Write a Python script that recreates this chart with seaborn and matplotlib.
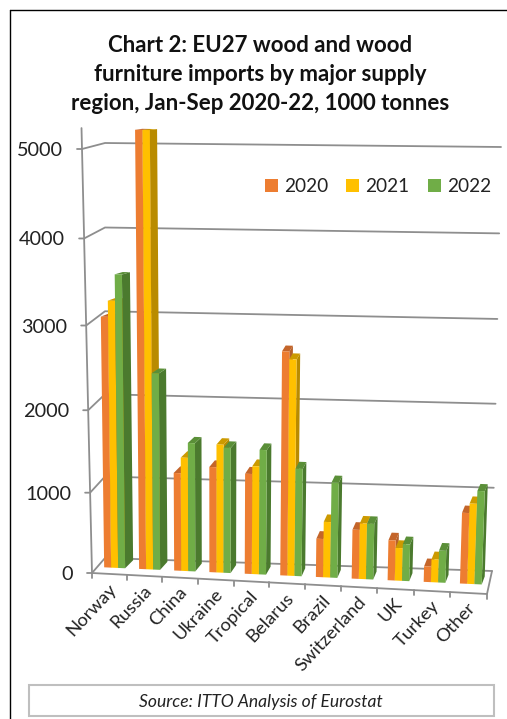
import numpy as np, pandas as pd
import matplotlib
matplotlib.use("Agg")
import matplotlib.pyplot as plt
from matplotlib.patches import Polygon, Rectangle
from matplotlib.transforms import Transform, IdentityTransform
from matplotlib.lines import Line2D
import seaborn as sns

regions = ["Norway","Russia","China","Ukraine","Tropical","Belarus","Brazil","Switzerland","UK","Turkey","Other"]
v2020 = [3040,5200,1200,1290,1225,2700,470,600,490,190,860]
v2021 = [3230,5200,1390,1565,1320,2610,680,680,400,280,975]
v2022 = [3540,2390,1570,1530,1520,1310,1160,680,450,390,1130]
years = ["2020","2021","2022"]
colors = ["#ED7D31","#FFC000","#70AD47"]
side_colors = ["#B5602A","#B98B00","#4B7A2E"]
top_colors = ["#C4652A","#CC9A00","#5A8F38"]
yticks = [0,1000,2000,3000,4000,5000]
H = 719
GRID = "#8E8E8E"

def homography(src, dst):
    A, b = [], []
    for (x,y),(u,v) in zip(src,dst):
        A.append([x,y,1,0,0,0,-u*x,-u*y]); b.append(u)
        A.append([0,0,0,x,y,1,-v*x,-v*y]); b.append(v)
    return np.append(np.linalg.solve(np.array(A,float),np.array(b,float)),1).reshape(3,3)

XL, XR, YMAX = -0.5, 10.5, 5000
src = [(XL,0),(XR,0),(XL,YMAX),(XR,YMAX)]
FRONT = homography(src, [(92,573),(487,594),(82,149),(505,161)])
BACK = homography(src, [(105,558),(492,571),(105,143),(501,147)])

def apply_h(M, xy):
    xy = np.atleast_2d(np.asarray(xy,float))
    p = np.c_[xy, np.ones(len(xy))] @ M.T
    return p[:,:2]/p[:,2:]

def project(xy, z):
    q = (1-z)*apply_h(FRONT,xy) + z*apply_h(BACK,xy)
    q[:,1] = H - q[:,1]
    return q

def depth(x, h):
    dx = np.interp(x,[0,2,5,10],[8,6.5,3.6,3])
    dy = -8 + h*np.interp(x,[0,1,5,10],[.0016,.00135,.0008,.0009])
    return np.array([dx,-dy])

class Persp(Transform):
    input_dims = output_dims = 2
    is_affine = False
    has_inverse = False
    def __init__(self, z=0.0):
        super().__init__()
        self.z = z
    def transform_non_affine(self, values):
        return project(values, self.z)

sns.set_theme(style="white")
plt.rcParams["font.family"] = ["Lato","DejaVu Sans"]
fig = plt.figure(figsize=(5.07,7.19), dpi=100, facecolor="white")
ax = fig.add_axes([0,0,1,1])
df = pd.DataFrame({"region":regions*3,
                   "value":v2020+v2021+v2022,
                   "year":[y for y in years for _ in regions]})
sns.barplot(data=df, x="region", y="value", hue="year", palette=colors, saturation=1,
            width=0.6, gap=0, ax=ax, linewidth=0, edgecolor="none", legend=True)
ax.axis("off")

Z0 = 0.40
front = Persp(Z0)
ident = IdentityTransform()
order = 10
def line(pts):
    pts = np.asarray(pts)
    ax.add_line(Line2D(pts[:,0], pts[:,1], transform=ident, color=GRID, lw=1.3, zorder=2, clip_on=False))
for v in yticks:
    fl = project([(XL,v)],0)[0]; bl = project([(XL,v)],1)[0]; br = project([(XR,v)],1)[0]
    line([fl+[-5,0], fl, bl, br])
line(np.vstack([project([(XL,0)],0), project([(XL,5230)],0)]))
line(np.vstack([project([(XL,0),(XR,0)],0), project([(XR,0)],1)]))
for i in range(12):
    p = project([(XL+i,0)],0)[0]
    line([p, p+[0,-5]])

# 3D bars built from the bars seaborn drew
for cat in range(len(regions)):
    for ci, cont in enumerate(ax.containers):
        r = cont.patches[cat]
        x0, x1, h = r.get_x(), r.get_x()+r.get_width(), r.get_height()
        r.set_transform(front); r.set_clip_on(False); r.set_zorder(order+2)
        a, b = project([(x1,0),(x1,h)],Z0)
        e, f = project([(x0,h),(x1,h)],Z0)
        d0, dh = depth(cat,0), depth(cat,h)
        ax.add_patch(Polygon([a,b,b+dh,a+d0],closed=True,fc=side_colors[ci],ec="none",transform=ident,zorder=order+1,clip_on=False))
        ax.add_patch(Polygon([e,f,f+dh,e+dh],closed=True,fc=top_colors[ci],ec="none",transform=ident,zorder=order+1,clip_on=False))
        order += 3

for v in yticks:
    ax.annotate(str(v), xy=(XL,v), xycoords=Persp(0), xytext=(-19,-1.5), textcoords="offset pixels",
                ha="right", va="center", fontsize=14.3, color="#222222", annotation_clip=False)
for i,name in enumerate(regions):
    ax.annotate(name, xy=(i,0), xycoords=Persp(0), xytext=(4,-12), textcoords="offset pixels",
                ha="right", va="center", rotation=47, rotation_mode="anchor", fontsize=13.3, color="#222222", annotation_clip=False)

sns.move_legend(ax, loc="center left", bbox_to_anchor=(265/507,1-187/719), ncol=3, title=None, frameon=False,
                fontsize=13.7, handlelength=0.68, handleheight=0.68, handletextpad=0.32, columnspacing=0.95,
                borderpad=0, borderaxespad=0)
leg = ax.get_legend()
for t in leg.get_texts():
    t.set_color("#222222")

fig.text(260/507, 1-74.5/719, "Chart 2: EU27 wood and wood\nfurniture imports by major supply\nregion, Jan-Sep 2020-22, 1000 tonnes",
         ha="center", va="center", fontsize=16, fontweight="bold", linespacing=1.45, color="#111111")

fig.add_artist(Line2D([10/507,10/507],[0,1-10/719],color="black",lw=1))
fig.add_artist(Line2D([10/507,1],[1-10/719,1-10/719],color="black",lw=1))
fig.add_artist(Rectangle((29/507,1-716/719),465/507,31/719,fc="white",ec="#BFBFBF",lw=1.5,transform=fig.transFigure))
fig.text(261/507,1-702/719,"Source: ITTO Analysis of Eurostat",ha="center",va="center",fontsize=12.6,style="italic",color="#222222")
fig.savefig("out.png", dpi=100)
